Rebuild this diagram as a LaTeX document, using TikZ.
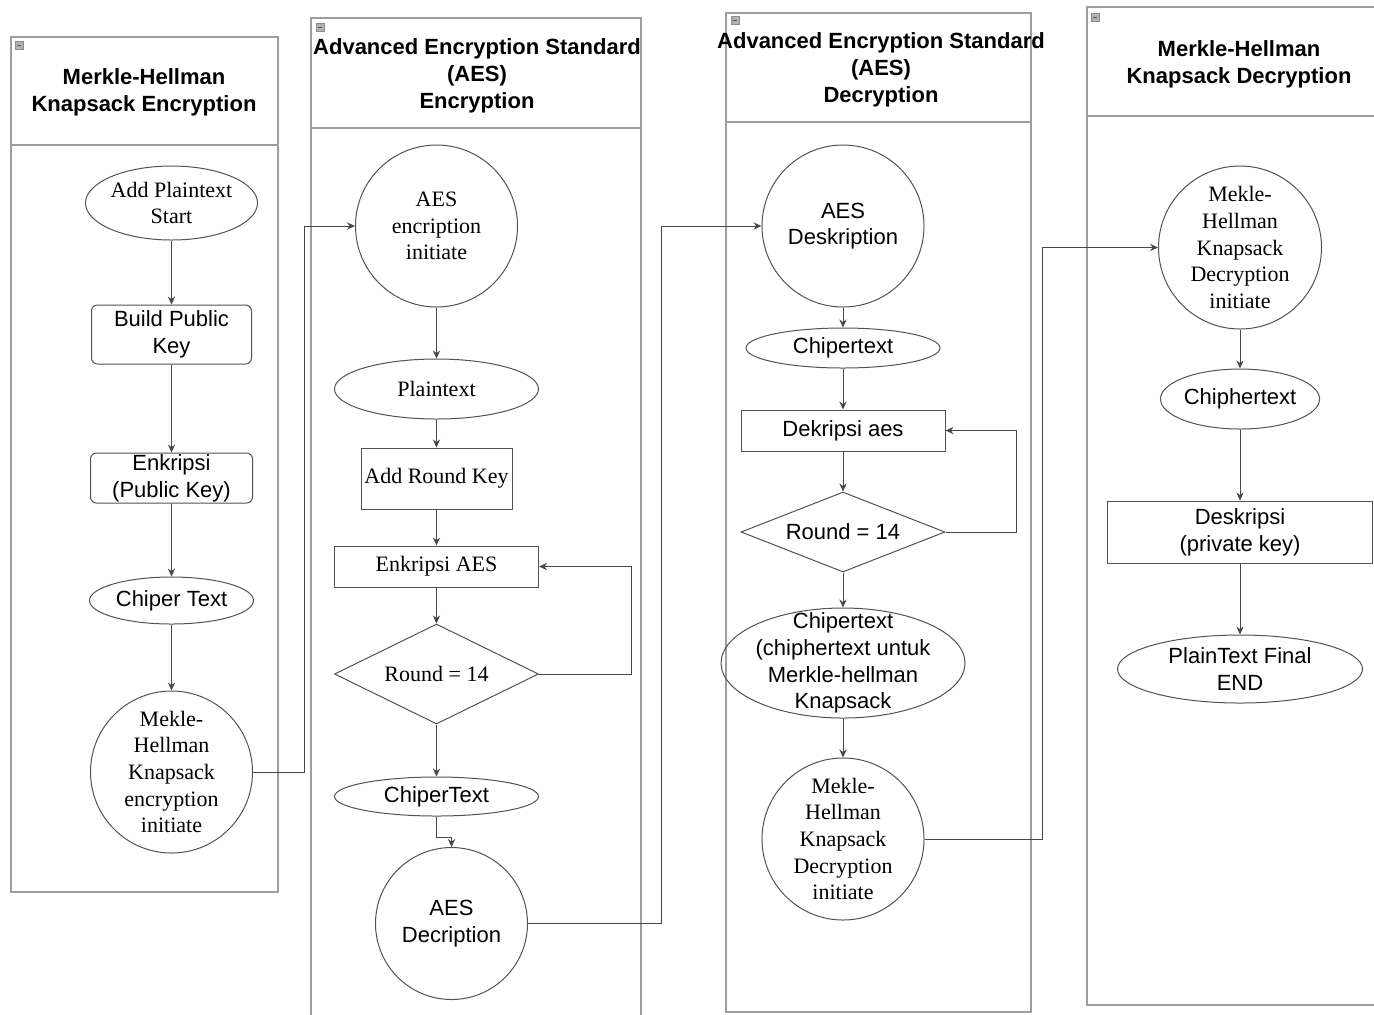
\documentclass[tikz,border=0pt]{standalone}
\usepackage{fontspec}
\setmainfont{Liberation Serif}
\setsansfont{Liberation Sans}
\usetikzlibrary{shapes.geometric,arrows.meta}

\begin{document}
\begin{tikzpicture}[x=0.5pt,y=-0.5pt,
  pool/.style={draw=black!38,line width=1pt},
  lanetitle/.style={font=\sffamily\bfseries\fontsize{11}{13.5}\selectfont,align=center,inner sep=0pt},
  shp/.style={draw=black!68,line width=0.5pt,inner sep=0pt,align=center,text=black},
  sf/.style={font=\sffamily\fontsize{11}{13.3}\selectfont},
  rm/.style={font=\rmfamily\fontsize{11}{13.3}\selectfont},
  oval/.style={shp,ellipse},
  circ/.style={shp,circle},
  boxr/.style={shp,rectangle},
  rbox/.style={shp,rectangle,rounded corners=3pt},
  dia/.style={shp,diamond},
  arr/.style={draw=black!72,line width=0.5pt,-{Stealth[length=4pt,width=3.6pt]}},
  tog/.style={fill=black!30,draw=black!45,line width=0.3pt}
]
\useasboundingbox (0,0) rectangle (1374,1014);

% ---- swimlanes ----
\draw[pool] (11,37) rectangle (278,892);
\draw[pool] (11,145) -- (278,145);
\draw[pool] (311,1020) -- (311,18) -- (641,18) -- (641,1020);
\draw[pool] (311,128) -- (641,128);
\draw[pool] (726,13) rectangle (1031,1012);
\draw[pool] (726,122) -- (1031,122);
\draw[pool] (1380,1005) -- (1087,1005) -- (1087,7) -- (1380,7);
\draw[pool] (1087,116) -- (1380,116);

% collapse toggles
\foreach \tx/\ty in {15/41, 316/23, 731/16, 1091/13}{
  \draw[tog] (\tx,\ty) rectangle ++(8,8);
  \draw[black!65,line width=0.5pt] (\tx,\ty) ++(2,4) -- ++(4,0);
}

\node[lanetitle] (t1) at (144,92.5) {Merkle-Hellman\\Knapsack Encryption};
\node[lanetitle] (t2) at (477,75.5) {Advanced Encryption Standard\\(AES)\\Encryption};
\node[lanetitle] (t3) at (881,69.5) {Advanced Encryption Standard\\(AES)\\Decryption};
\node[lanetitle] (t4) at (1239,64) {Merkle-Hellman\\Knapsack Decryption};

% ---- Merkle-Hellman knapsack encryption ----
\node[oval,rm,minimum width=81.5pt,minimum height=37pt] (n1) at (171.5,203) {Add Plaintext\\Start};
\node[rbox,sf,minimum width=80pt,minimum height=29.5pt] (n2) at (171.5,334.5) {Build Public\\Key};
\node[rbox,sf,minimum width=81pt,minimum height=25pt] (n3) at (171.5,478) {Enkripsi\\(Public Key)};
\node[oval,sf,minimum width=82pt,minimum height=23.5pt] (n4) at (171.5,600.5) {Chiper Text};
\node[circ,rm,minimum size=81pt] (n5) at (171.5,772) {Mekle-\\Hellman\\Knapsack\\encryption\\initiate};

% ---- AES encryption ----
\node[circ,rm,minimum size=81pt] (a1) at (436.5,226) {AES\\encription\\initiate};
\node[oval,rm,minimum width=102pt,minimum height=30pt] (a2) at (436.5,389) {Plaintext};
\node[boxr,rm,minimum width=75.5pt,minimum height=30.5pt] (a3) at (436.5,478.5) {Add Round Key};
\node[boxr,rm,minimum width=102pt,minimum height=20.5pt] (a4) at (436.5,566.5) {Enkripsi AES};
\node[dia,rm,aspect=2.04,minimum width=102pt,minimum height=50pt] (a5) at (436.5,674) {Round = 14};
\node[oval,sf,minimum width=102pt,minimum height=19.5pt] (a6) at (436.5,796.5) {ChiperText};
\node[circ,sf,minimum size=76pt] (a7) at (451.5,923.5) {AES\\Decription};

% ---- AES decryption ----
\node[circ,sf,minimum size=81pt] (d1) at (843,226) {AES\\Deskription};
\node[oval,sf,minimum width=97pt,minimum height=20pt] (d2) at (843,348) {Chipertext};
\node[boxr,sf,minimum width=102pt,minimum height=20.5pt] (d3) at (843,430.5) {Dekripsi aes};
\node[dia,sf,aspect=2.55,minimum width=102pt,minimum height=40pt] (d4) at (843,532) {Round = 14};
% the text of this ellipse runs past its outline, so it is set as a centred label
\node[oval,minimum width=122pt,minimum height=55pt,
      label={[sf,align=center,inner sep=0pt]center:Chipertext\\(chiphertext untuk\\Merkle-hellman\\Knapsack}] (d5) at (843,663) {};
\node[circ,rm,minimum size=81pt] (d6) at (843,839) {Mekle-\\Hellman\\Knapsack\\Decryption\\initiate};

% ---- Merkle-Hellman knapsack decryption ----
\node[circ,rm,minimum size=81.5pt] (m1) at (1240,247.5) {Mekle-\\Hellman\\Knapsack\\Decryption\\initiate};
\node[oval,sf,minimum width=76.5pt,minimum height=30pt] (m2) at (1240,399) {Chiphertext};
\node[boxr,sf,minimum width=132.5pt,minimum height=31pt] (m3) at (1240,532) {Deskripsi\\(private key)};
\node[oval,sf,minimum width=122.5pt,minimum height=34pt] (m4) at (1240,669) {PlainText Final\\END};

% ---- connectors ----
\draw[arr] (n1) -- (n2);
\draw[arr] (n2) -- (n3);
\draw[arr] (n3) -- (n4);
\draw[arr] (n4) -- (n5);
\draw[arr] (n5.east) -- ++(51,0) |- (a1.west);

\draw[arr] (a1) -- (a2);
\draw[arr] (a2) -- (a3);
\draw[arr] (a3) -- (a4);
\draw[arr] (a4) -- (a5);
\draw[arr] (a5.east) -- ++(92,0) |- (a4.east);
\draw[arr] (a5) -- (a6);
\draw[arr] (a6.south) -- ++(0,21) -| (a7.north);
\draw[arr] (a7.east) -- ++(133,0) |- (d1.west);

\draw[arr] (d1) -- (d2);
\draw[arr] (d2) -- (d3);
\draw[arr] (d3) -- (d4);
\draw[arr] (d4.east) -- ++(71,0) |- (d3.east);
\draw[arr] (d4) -- (d5);
\draw[arr] (d5) -- (d6);
\draw[arr] (d6.east) -- ++(118,0) |- (m1.west);

\draw[arr] (m1) -- (m2);
\draw[arr] (m2) -- (m3);
\draw[arr] (m3) -- (m4);
\end{tikzpicture}
\end{document}
